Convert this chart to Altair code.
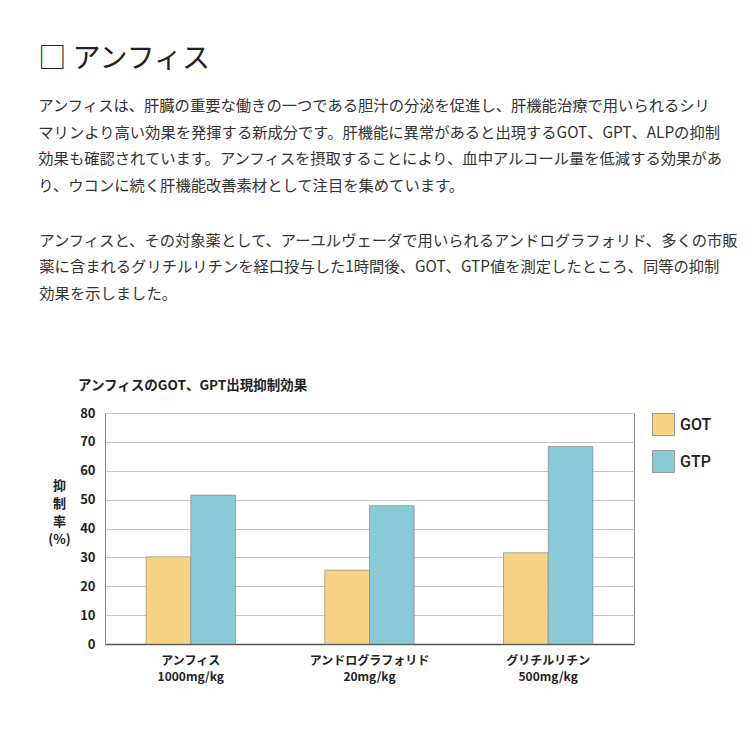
import altair as alt
import pandas as pd

# ---- data ----
categories = ["アンフィス\n1000mg/kg", "アンドログラフォリド\n20mg/kg", "グリチルリチン\n500mg/kg"]
series = ["GOT", "GTP"]
got_values = [30.2, 25.6, 31.6]
gtp_values = [51.6, 47.9, 68.4]
y_ticks = [0, 10, 20, 30, 40, 50, 60, 70, 80]

heading = "□ アンフィス"
paragraph1 = [
    "アンフィスは、肝臓の重要な働きの一つである胆汁の分泌を促進し、肝機能治療で用いられるシリ",
    "マリンより高い効果を発揮する新成分です。肝機能に異常があると出現するGOT、GPT、ALPの抑制",
    "効果も確認されています。アンフィスを摂取することにより、血中アルコール量を低減する効果があ",
    "り、ウコンに続く肝機能改善素材として注目を集めています。",
]
paragraph2 = [
    "アンフィスと、その対象薬として、アーユルヴェーダで用いられるアンドログラフォリド、多くの市販",
    "薬に含まれるグリチルリチンを経口投与した1時間後、GOT、GTP値を測定したところ、同等の抑制",
    "効果を示しました。",
]
chart_title = "アンフィスのGOT、GPT出現抑制効果"
y_title = ["抑", "制", "率", "(%)"]

rows = []
for c, g, t in zip(categories, got_values, gtp_values):
    rows.append({"drug": c, "series": "GOT", "value": g})
    rows.append({"drug": c, "series": "GTP", "value": t})
df = pd.DataFrame(rows)

JP = "Noto Sans CJK JP"

color_scale = alt.Scale(domain=series, range=["#F9D384", "#88CBD6"])

bars = alt.Chart(df).mark_bar(
    stroke="#7f7f7f", strokeWidth=1, strokeOpacity=0.6
).encode(
    x=alt.X(
        "drug:N",
        sort=categories,
        scale=alt.Scale(paddingInner=0.5, paddingOuter=0.23),
        axis=alt.Axis(
            title=None,
            labelAngle=0,
            labelExpr="split(datum.label, '\\n')",
            labelFont=JP,
            labelFontSize=12,
            labelFontWeight="bold",
            labelColor="#222",
            labelLineHeight=16.5,
            labelPadding=11,
            ticks=False,
            domainColor="#555",
            domainWidth=1.5,
            grid=False,
        ),
    ),
    xOffset=alt.XOffset("series:N", sort=series),
    y=alt.Y(
        "value:Q",
        scale=alt.Scale(domain=[0, 80]),
        axis=alt.Axis(
            values=y_ticks,
            title=y_title,
            titleAngle=0,
            titleAlign="center",
            titleBaseline="top",
            titleX=-46,
            titleY=66,
            titleLineHeight=18,
            titleFont=JP,
            titleFontSize=13,
            titleFontWeight="bold",
            titleColor="#222",
            labelFont=JP,
            labelFontSize=13,
            labelFontWeight="bold",
            labelColor="#222",
            labelPadding=10,
            ticks=False,
            domain=False,
            gridColor="#c8c8c8",
            gridWidth=1,
        ),
    ),
    color=alt.Color(
        "series:N",
        scale=color_scale,
        legend=alt.Legend(
            title=None,
            orient="right",
            symbolType="square",
            symbolSize=484,
            symbolStrokeColor="#9a9a9a",
            symbolStrokeWidth=1,
            symbolOpacity=1,
            labelFont="Roboto",
            labelFontSize=16,
            labelFontWeight=500,
            labelColor="#222",
            labelOffset=5,
            rowPadding=10,
            offset=18,
        ),
    ),
).properties(
    width=529,
    height=231,
    title=alt.TitleParams(
        chart_title,
        anchor="start",
        frame="group",
        dx=-27,
        font=JP,
        fontSize=13.5,
        fontWeight="bold",
        color="#222",
        offset=14.6,
    ),
)

middle = alt.vconcat(bars).resolve_scale(color="independent").resolve_legend(
    color="independent"
).properties(
    title=alt.TitleParams(
        paragraph2,
        anchor="start",
        dx=-8,
        font=JP,
        fontSize=15.3,
        fontWeight="normal",
        color="#333",
        lineHeight=26.5,
        offset=76.5,
    ),
)

chart = alt.vconcat(middle).resolve_scale(color="independent").resolve_legend(
    color="independent"
).properties(
    title=alt.TitleParams(
        heading,
        subtitle=paragraph1,
        anchor="start",
        dx=-1,
        font=JP,
        fontSize=28,
        fontWeight="normal",
        color="#222",
        subtitleFont=JP,
        subtitleFontSize=15.3,
        subtitleColor="#333",
        subtitleLineHeight=26.5,
        subtitlePadding=25,
        offset=39.5,
    ),
    padding={"left": 30, "top": 38, "right": 0, "bottom": 5},
).configure_view(
    stroke="#8a8a8a", strokeWidth=1
).configure_concat(spacing=0)

chart.save("out.html", embed_options={"renderer": "svg", "actions": False})
